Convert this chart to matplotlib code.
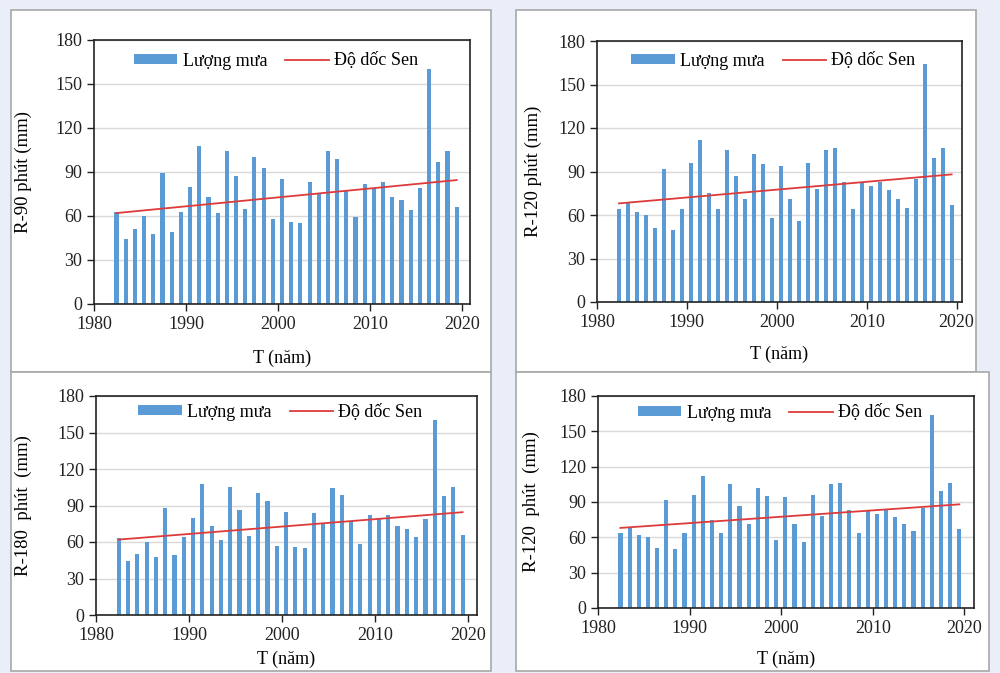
import numpy as np
import matplotlib
matplotlib.use("Agg")
import matplotlib.pyplot as plt
from matplotlib.patches import Rectangle

plt.rcParams['font.family'] = ['Liberation Serif', 'DejaVu Serif']

# Số liệu
years = list(range(1982, 2020))

r90 = [63, 44, 51, 60, 48, 89, 49, 63, 80, 108, 73, 62, 104, 87, 65, 100, 93, 58,
       85, 56, 55, 83, 76, 104, 99, 78, 59, 82, 79, 83, 73, 71, 64, 79, 160, 97, 104, 66]
r120 = [64, 69, 62, 60, 51, 92, 50, 64, 96, 112, 75, 64, 105, 87, 71, 102, 95, 58,
        94, 71, 56, 96, 78, 105, 106, 83, 64, 82, 80, 83, 77, 71, 65, 85, 164, 99, 106, 67]
r180 = [63, 44, 50, 60, 48, 88, 49, 64, 80, 108, 73, 62, 105, 86, 65, 100, 94, 57,
        85, 56, 55, 84, 75, 104, 99, 77, 58, 82, 80, 82, 73, 71, 64, 79, 160, 98, 105, 66]

# đường xu thế Sen (đầu - cuối)
sen90 = [62, 84.5]
sen120 = [68, 88]
sen180 = [62, 84.5]

panels = [
    # nhãn trục y, chuỗi, xu thế, khung panel (px), trục (px), xmax, legend y (px), nhãn y x (px), labelpad x
    ("R-90 phút (mm)", r90, sen90, (11, 10, 491, 372), (94, 40, 470, 304), 2020.9, 61, 32, 12),
    ("R-120 phút (mm)", r120, sen120, (516, 10, 976, 372), (597, 41, 962, 302), 2020.6, 61, 542, 11),
    ("R-180  phút  (mm)", r180, sen180, (11, 372, 491, 671), (96, 396, 477, 615), 2021.0, 412, 32, 5),
    ("R-120  phút  (mm)", r120, sen120, (516, 372, 989, 671), (598, 396, 974, 608), 2021.05, 413, 540, 10),
]

W, H = 1000, 673
fig = plt.figure(figsize=(10, 6.73), dpi=100)
fig.patch.set_facecolor('#e9eef8')

bar_color = '#5b9bd5'
line_color = '#dd3b3b'

for ylab, vals, sen, box, axbox, xmax, leg_y, ylab_x, xpad in panels:
    x0, y0, x1, y1 = box
    fig.patches.append(Rectangle((x0 / W, 1 - y1 / H), (x1 - x0) / W, (y1 - y0) / H,
                                 transform=fig.transFigure, facecolor='white',
                                 edgecolor='#a8a8a8', lw=1.2, zorder=-5))
    l, t, r, b = axbox
    ax = fig.add_axes([l / W, 1 - b / H, (r - l) / W, (b - t) / H])
    xs = np.array(years) + 0.45
    bars = ax.bar(xs, vals, width=0.45, color=bar_color, label='Lượng mưa', zorder=2)
    line, = ax.plot([xs[0], xs[-1]], sen, color=line_color, lw=1.3, label='Độ dốc Sen', zorder=3)

    ax.set_xlim(1980, xmax)
    ax.set_ylim(0, 180)
    ax.set_xticks([1980, 1990, 2000, 2010, 2020])
    ax.set_yticks(range(0, 181, 30))
    ax.yaxis.grid(True, color='#d9d9d9', lw=1, zorder=0)
    ax.set_axisbelow(True)
    ax.tick_params(axis='both', direction='out', length=5, width=1, labelsize=13,
                   colors='#222222')
    for s in ax.spines.values():
        s.set_color('#222222')
        s.set_linewidth(1.2)

    ax.set_xlabel('T (năm)', fontsize=13, labelpad=xpad)
    ax.set_ylabel(ylab, fontsize=13.5)
    ax.yaxis.set_label_coords((ylab_x - l) / (r - l), 0.5)

    # chú giải
    cx = (l + r) / 2 / W - 0.006
    ax.legend([bars, line], ['Lượng mưa', 'Độ dốc Sen'], loc='center',
              bbox_to_anchor=(cx, 1 - leg_y / H),
              bbox_transform=fig.transFigure, ncol=2, frameon=False,
              fontsize=13, handlelength=2.4, handleheight=0.5, handletextpad=0.3,
              columnspacing=1.0)

fig.savefig('out.png', dpi=100, facecolor=fig.get_facecolor())
